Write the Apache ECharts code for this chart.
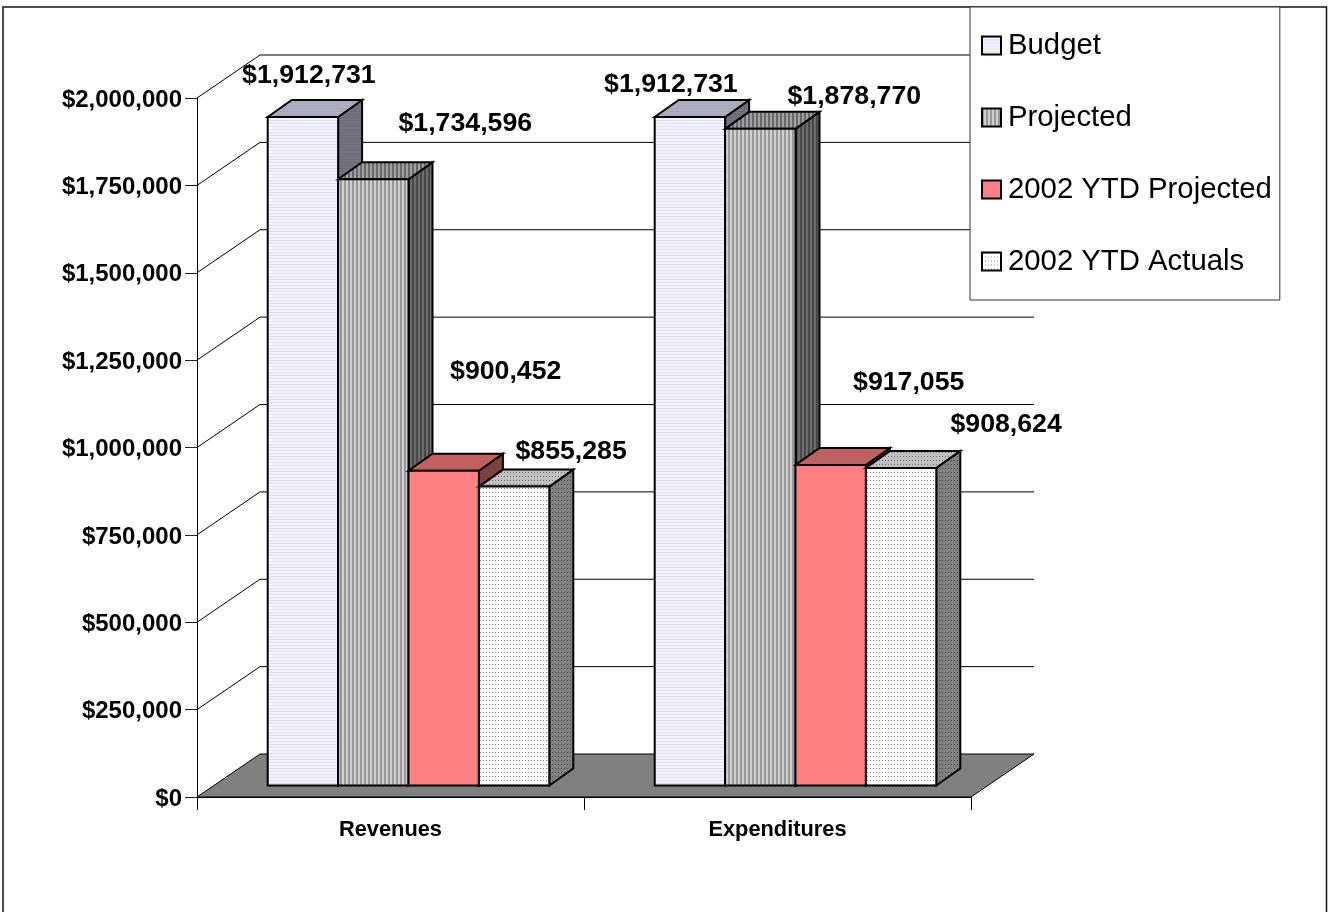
<!DOCTYPE html>
<html>
<head>
<meta charset="utf-8">
<style>html,body{margin:0;padding:0;background:#fff}#c{width:1330px;height:912px}</style>
<script src="https://cdn.jsdelivr.net/npm/echarts@6/dist/echarts.min.js"></script>
</head>
<body>
<div id="c"></div>
<script>
const categories = ['Revenues', 'Expenditures'];
const seriesNames = ['Budget', 'Projected', '2002 YTD Projected', '2002 YTD Actuals'];
const budget = [1912731, 1912731];
const projected = [1734596, 1878770];
const ytdProjected = [900452, 917055];
const ytdActuals = [855285, 908624];
const gridTicks = [250000, 500000, 750000, 1000000, 1250000, 1500000, 1750000, 2000000];

// Label displacement from each bar's top centre, as placed by hand in the original chart
const labelNudges = [
  [[6, -41], [-19, -32]],
  [[92, -56], [94, -32]],
  [[62, -99], [78, -82]],
  [[57, -35], [105, -43]]
];

const FONT = '"Liberation Sans", Arial, sans-serif';
const WALL = [63, 43];      // depth of the chart box
const BAR_DEPTH = [24, 17]; // depth of a bar
const FLOOR_INSET = [18, 11.5];
const BAR_W = 70.4;

function pattern(w, h, bg, ink, cells) {
  const c = document.createElement('canvas');
  c.width = w; c.height = h;
  const g = c.getContext('2d');
  g.fillStyle = bg; g.fillRect(0, 0, w, h);
  g.fillStyle = ink;
  cells.forEach(p => g.fillRect(p[0], p[1], p[2], p[3]));
  return { image: c, repeat: 'repeat' };
}
const hLines = (bg, ink) => pattern(2, 3, bg, ink, [[0, 0, 2, 1]]);
const vLines = (bg, ink) => pattern(4, 2, bg, ink, [[0, 0, 2, 2]]);
const dots = (bg, ink) => pattern(3, 4, bg, ink, [[0, 0, 1, 1]]);

const faces = [
  { front: hLines('#f4f4ff', '#dcdcf8'), top: hLines('#b0b0c4', '#a4a4b8'), side: hLines('#74747f', '#68687a') },
  { front: vLines('#d0d0d0', '#989898'), top: vLines('#a0a0a0', '#686868'), side: vLines('#6c6c6c', '#484848') },
  { front: '#ff8080', top: '#c06060', side: '#804040' },
  { front: dots('#ffffff', '#909090'), top: dots('#c0c0c0', '#707070'), side: dots('#808080', '#484848') }
];

function makeBarRender(s) {
  return function (params, api) {
    const i = api.value(0), v = api.value(1);
    const c0 = api.coord([i, 0]), c1 = api.coord([i, v]);
    const x = c0[0] + FLOOR_INSET[0] + (s - 2) * BAR_W;
    const yb = c0[1] - FLOOR_INSET[1], yt = c1[1] - FLOOR_INSET[1];
    const x2 = x + BAR_W, dx = BAR_DEPTH[0], dy = BAR_DEPTH[1];
    const line = { stroke: '#000', lineWidth: 2, lineJoin: 'miter' };
    const poly = (pts, fill) => ({
      type: 'polygon', shape: { points: pts },
      style: Object.assign({ fill: fill }, line)
    });
    const n = labelNudges[s][i];
    return {
      type: 'group',
      children: [
        poly([[x2, yb], [x2 + dx, yb - dy], [x2 + dx, yt - dy], [x2, yt]], faces[s].side),
        poly([[x, yt], [x + dx, yt - dy], [x2 + dx, yt - dy], [x2, yt]], faces[s].top),
        poly([[x, yb], [x2, yb], [x2, yt], [x, yt]], faces[s].front),
        {
          type: 'text', z2: 100,
          style: {
            x: x + BAR_W / 2 + n[0], y: yt + n[1],
            text: '$' + v.toLocaleString('en-US'),
            font: 'bold 26.7px ' + FONT, fill: '#000',
            textAlign: 'center', textVerticalAlign: 'middle'
          }
        }
      ]
    };
  };
}

function renderWallLine(params, api) {
  const r = params.coordSys;
  const y = api.coord([0, api.value(0)])[1];
  const dx = WALL[0], dy = WALL[1];
  return {
    type: 'polyline',
    shape: { points: [[r.x, y], [r.x + dx, y - dy], [r.x + r.width + dx, y - dy]] },
    style: { stroke: '#000', lineWidth: 1, fill: null }
  };
}

function renderFloor(params, api) {
  const r = params.coordSys;
  const y = api.coord([0, 0])[1];
  const dx = WALL[0], dy = WALL[1];
  return {
    type: 'polygon',
    shape: { points: [[r.x, y], [r.x + dx, y - dy], [r.x + r.width + dx, y - dy], [r.x + r.width, y]] },
    style: { fill: '#808080', stroke: '#000', lineWidth: 1 }
  };
}

const seriesValues = [budget, projected, ytdProjected, ytdActuals];

const option = {
  animation: false,
  backgroundColor: '#fff',
  textStyle: { fontFamily: FONT },
  graphic: [{
    type: 'rect', silent: true, z: 0,
    shape: { x: 3, y: 7, width: 1323.5, height: 1000 },
    style: { fill: null, stroke: '#111', lineWidth: 1.5 }
  }],
  grid: { left: 197, right: 359, top: 98, bottom: 115, containLabel: false },
  xAxis: {
    type: 'category', data: categories, z: 6, boundaryGap: true,
    axisLine: { show: true, lineStyle: { color: '#000', width: 1 } },
    axisTick: { show: true, interval: 0, alignWithLabel: false, length: 13, lineStyle: { color: '#000', width: 1 } },
    axisLabel: { color: '#000', fontFamily: FONT, fontWeight: 'bold', fontSize: 21.8, margin: 22 }
  },
  yAxis: {
    type: 'value', min: 0, max: 2000000, interval: 250000, z: 6,
    splitLine: { show: false },
    axisLine: { show: true, lineStyle: { color: '#000', width: 1 } },
    axisTick: { show: true, length: 12, lineStyle: { color: '#222', width: 1 } },
    axisLabel: {
      color: '#000', margin: 15,
      formatter: v => '{v|$' + v.toLocaleString('en-US') + '}',
      rich: { v: { fontFamily: FONT, fontWeight: 'bold', fontSize: 24, color: '#000', padding: [4, 0, 0, 0] } }
    }
  },
  legend: {
    orient: 'vertical', left: 970, top: 7, icon: 'rect',
    itemWidth: 19, itemHeight: 18, itemGap: 43,
    padding: [24, 8, 24, 11],
    backgroundColor: '#fff', borderColor: '#333', borderWidth: 1, borderRadius: 0,
    itemStyle: { borderColor: '#000', borderWidth: 2 },
    data: seriesNames,
    textStyle: { color: '#000', fontFamily: FONT, fontSize: 29.3, padding: [0, 0, 0, 2] }
  },
  series: [
    { type: 'custom', name: 'floor', coordinateSystem: 'cartesian2d', silent: true, z: 1,
      data: [[0]], encode: { y: 0 }, renderItem: renderFloor },
    { type: 'custom', name: 'walls', coordinateSystem: 'cartesian2d', silent: true, z: 1,
      data: gridTicks.map(v => [v]), encode: { y: 0 }, renderItem: renderWallLine }
  ].concat(seriesNames.map((name, s) => ({
    type: 'custom', name: name, coordinateSystem: 'cartesian2d', z: 2,
    itemStyle: { color: faces[s].front, borderColor: '#000', borderWidth: 2 },
    data: seriesValues[s].map((v, i) => [i, v]),
    encode: { x: 0, y: 1 },
    renderItem: makeBarRender(s)
  })))
};

const chart = echarts.init(document.getElementById('c'), null, { renderer: 'canvas' });
chart.setOption(option);
</script>
</body>
</html>
